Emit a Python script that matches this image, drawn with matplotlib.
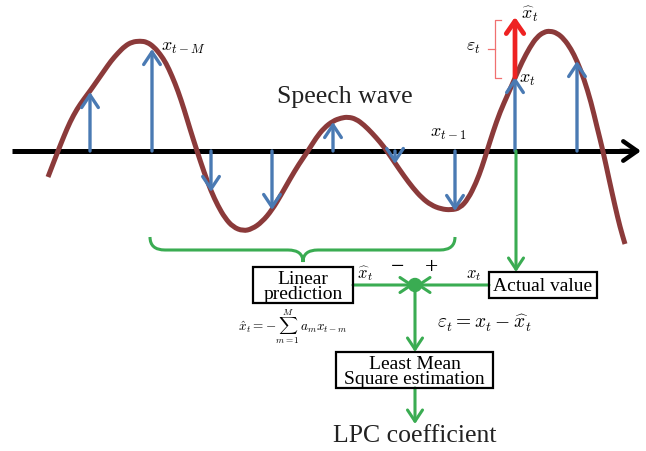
import numpy as np
import matplotlib
matplotlib.use("Agg")
import matplotlib.pyplot as plt
from matplotlib.path import Path
from matplotlib.patches import PathPatch, Rectangle, Circle

plt.rcParams['mathtext.fontset'] = 'cm'
plt.rcParams['font.family'] = ['Liberation Serif', 'DejaVu Serif']

# sampled speech values (height above the time axis)
sample_x = [90, 152, 211, 272, 333, 395, 455, 515, 577]
sample_val = [59, 102, -41, -59, 29, -13, -60, 74, 90]
predicted_val = 134  # \hat{x}_t at the current sample

# speech wave
wave_x = [48, 53, 58, 64, 70, 77, 84, 90, 97, 104, 111, 118, 125, 132, 140,
          147, 154, 160, 166, 172, 178, 184, 190, 197, 204, 211, 218, 225, 233,
          243, 252, 262, 272, 281, 290, 299, 308, 316, 324, 333, 341, 348, 356,
          364, 372, 380, 387, 395, 404, 413, 422, 431, 441, 451, 460, 468, 476,
          482, 487, 493, 500, 508, 515, 522, 530, 537, 544, 550, 557, 564, 571,
          577, 584, 591, 597, 603, 609, 615, 620, 625]
wave_val = [-26, -13, 0, 15, 29, 42, 52, 60, 70, 80, 90, 98, 105, 109, 110,
            109, 104, 97, 88, 75, 60, 42, 22, 0, -21, -40, -55, -67, -76,
            -80, -78, -71, -59, -44, -28, -13, 0, 13, 23, 30, 33, 34, 32,
            26, 18, 9, 0, -12, -25, -37, -47, -54, -58, -59, -57, -48, -32,
            -16, 0, 19, 39, 57, 73, 89, 104, 114, 119, 120, 118, 112, 102,
            90, 72, 49, 24, 0, -28, -55, -76, -93]

AXIS_Y = 152
BLUE = '#4a7ab3'
WAVE = '#8b3a3a'
GREEN = '#3aac52'
RED = '#ee2222'

fig = plt.figure(figsize=(6.46, 4.52), dpi=100)
ax = fig.add_axes([0, 0, 1, 1])
ax.set_xlim(0, 646)
ax.set_ylim(452, 0)
ax.axis('off')


def arrow(x0, y0, x1, y1, color, lw, ms=18, hl=0.45, hw=0.3, z=3):
    ax.annotate('', xy=(x1, y1), xytext=(x0, y0),
                arrowprops=dict(arrowstyle=f'->,head_length={hl},head_width={hw}',
                                lw=lw, color=color, shrinkA=0, shrinkB=0,
                                mutation_scale=ms), zorder=z)


# time axis
ax.plot([12, 632], [AXIS_Y, AXIS_Y], color='black', lw=3.6, zorder=2,
        solid_capstyle='butt')
arrow(620, AXIS_Y, 641, AXIS_Y, 'black', 3.2, ms=20, hl=0.5, hw=0.35)

# samples
for sx, sv in zip(sample_x, sample_val):
    arrow(sx, AXIS_Y, sx, AXIS_Y - sv, BLUE, 2.4, ms=20, z=4)

# wave, drawn as a smooth quadratic-bezier path over the traced points
pts = np.column_stack([wave_x, AXIS_Y - np.array(wave_val)])
verts = [tuple(pts[0])]
codes = [Path.MOVETO]
for i in range(1, len(pts) - 1):
    verts += [tuple(pts[i]), tuple((pts[i] + pts[i + 1]) / 2)]
    codes += [Path.CURVE3, Path.CURVE3]
verts.append(tuple(pts[-1]))
codes.append(Path.LINETO)
ax.add_patch(PathPatch(Path(verts, codes), fill=False, ec=WAVE, lw=3.6,
                       capstyle='butt', zorder=3))

# prediction error arrow
cur_x = sample_x[7]
cur_y = AXIS_Y - sample_val[7]
arrow(cur_x, cur_y, cur_x, AXIS_Y - predicted_val, RED, 3.4, ms=18, hl=0.5, hw=0.35, z=5)
ax.plot([501, 495, 495, 501], [21, 21, 79, 79], color='#f07070', lw=0.9)
ax.plot([488, 495], [50, 50], color='#f07070', lw=0.9)

# labels on the wave
ax.text(161, 47, r'$x_{t-M}$', fontsize=13, va='center', ha='left')
ax.text(345, 97, 'Speech wave', fontsize=18.5, va='center', ha='center', color='#222222')
ax.text(430, 134, r'$x_{t-1}$', fontsize=13, va='center', ha='left')
ax.text(519, 80, r'$x_t$', fontsize=13, va='center', ha='left')
ax.text(521, 14, r'$\widehat{x}_t$', fontsize=13, va='center', ha='left')
ax.text(466, 48, r'$\varepsilon_t$', fontsize=13, va='center', ha='left')

# green brace
verts = [(150, 238), (150, 251), (165, 251), (288, 251), (303, 251), (303, 263),
         (303, 251), (318, 251), (440, 251), (455, 251), (455, 238)]
codes = [Path.MOVETO, Path.CURVE3, Path.CURVE3, Path.LINETO, Path.CURVE3, Path.CURVE3,
         Path.CURVE3, Path.CURVE3, Path.LINETO, Path.CURVE3, Path.CURVE3]
ax.add_patch(PathPatch(Path(verts, codes), fill=False, ec=GREEN, lw=2.2))

# actual value path
arrow(516, AXIS_Y, 516, 273, GREEN, 2.2, z=4)

# boxes
def box(x0, y0, x1, y1, text, fs):
    ax.add_patch(Rectangle((x0, y0), x1 - x0, y1 - y0, fill=False, ec='black', lw=1.6, zorder=5))
    ax.text((x0 + x1) / 2, (y0 + y1) / 2 + 1, text, fontsize=fs, ha='center',
            va='center', linespacing=0.82, zorder=6)

box(253, 268, 353, 304, 'Linear\nprediction', 14)
box(489, 273, 597, 299, 'Actual value', 14)
box(336, 353, 493, 389, 'Least Mean\nSquare estimation', 14)

# summation node
ax.add_patch(Circle((415, 286), 6.5, color=GREEN, zorder=6))
arrow(353, 286, 414, 286, GREEN, 2.2)
arrow(489, 286, 416, 286, GREEN, 2.2)
ax.text(398, 268, '\u2212', fontsize=17, ha='center', va='center')
ax.text(432, 268, '+', fontsize=17, ha='center', va='center')
ax.text(357, 274, r'$\widehat{x}_t$', fontsize=12, va='center', ha='left')
ax.text(466, 275, r'$x_t$', fontsize=12, va='center', ha='left')

ax.text(238, 327, r'$\hat{x}_t = -\sum_{m=1}^{M}\, a_m x_{t-m}$', fontsize=9.5,
        va='center', ha='left')
ax.text(437, 323, r'$\varepsilon_t = x_t - \widehat{x}_t$', fontsize=14,
        va='center', ha='left')

arrow(415, 292, 415, 353, GREEN, 2.2)
arrow(415, 389, 415, 425, GREEN, 2.2)
ax.text(415, 436, 'LPC coefficient', fontsize=18.5, ha='center', va='center',
        color='#222222')

fig.savefig('out.png', dpi=100)
